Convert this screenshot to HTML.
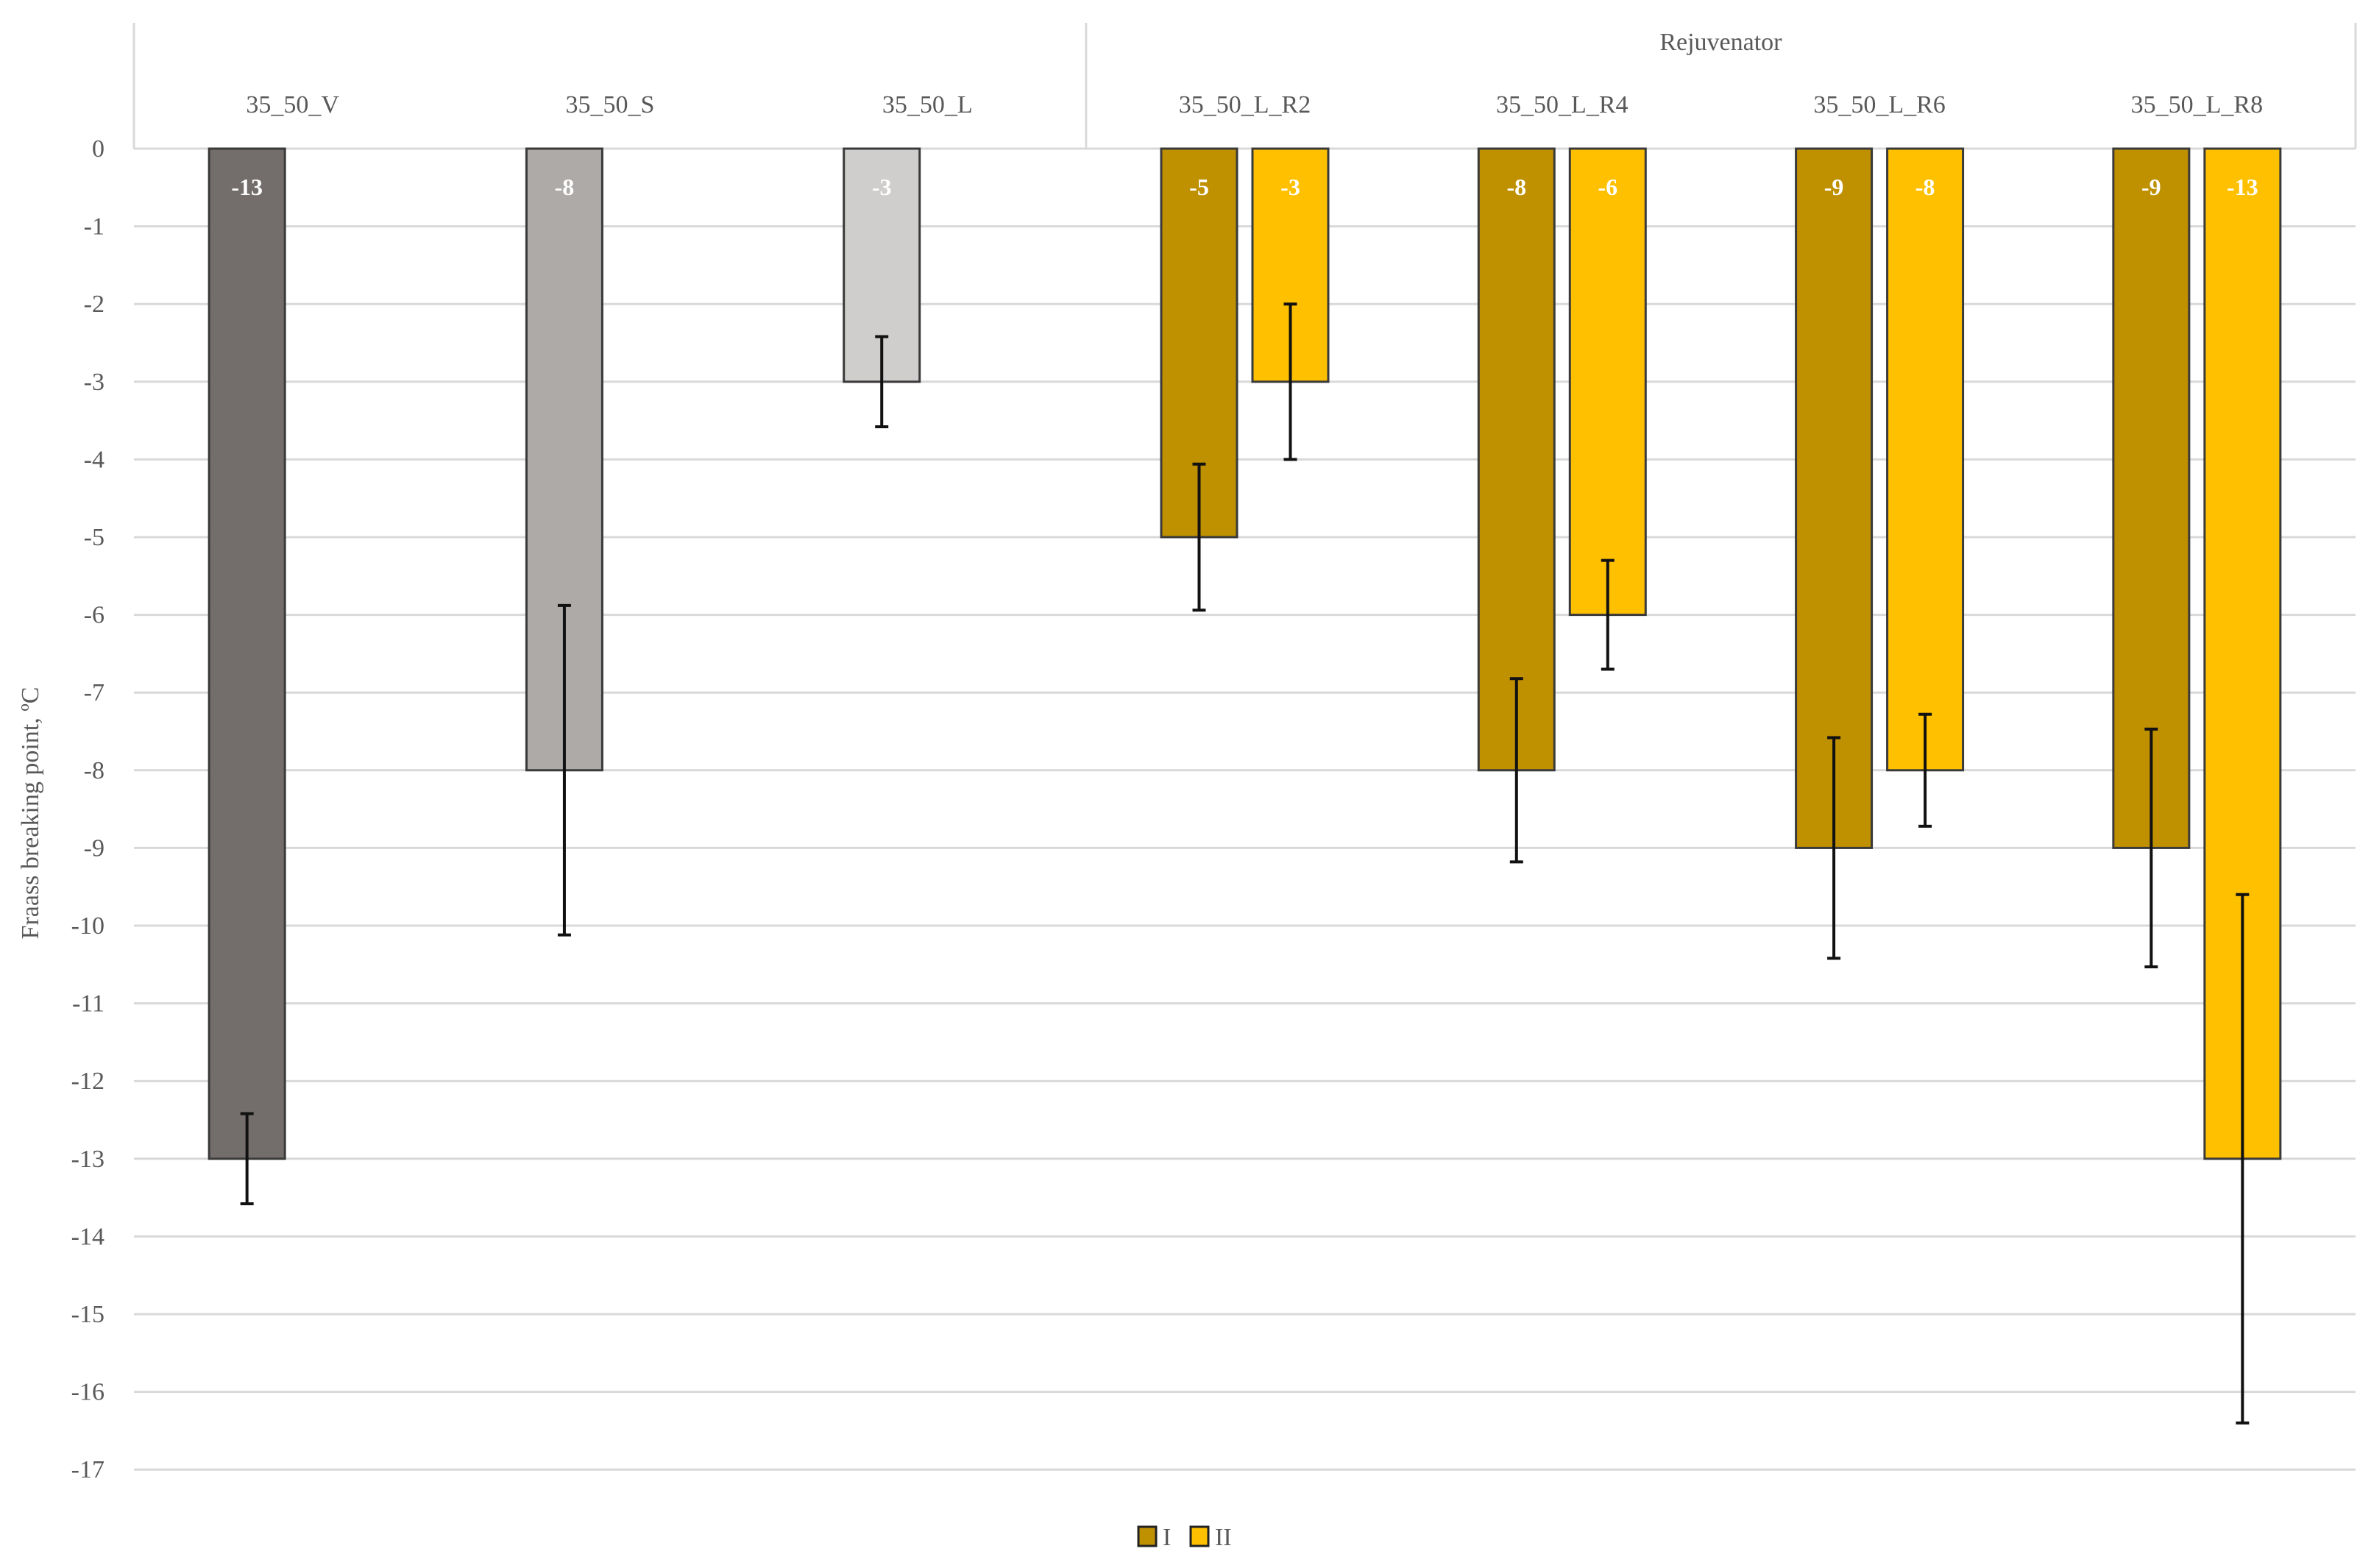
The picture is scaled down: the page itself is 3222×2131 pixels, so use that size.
<!DOCTYPE html>
<html><head><meta charset="utf-8">
<style>
html,body{margin:0;padding:0;background:#fff;}
svg{display:block;}
text{font-family:"Liberation Serif",serif;}
</style></head>
<body>
<svg id="chart" width="3222" height="2131" viewBox="0 0 3222 2131" xmlns="http://www.w3.org/2000/svg">
<rect width="3222" height="2131" fill="#fff"/>
<g id="grid"></g>
<g id="header"></g>
<g id="bars"></g>
<g id="yticks"></g>
<text x="0" y="0" transform="translate(52,1105) rotate(-90)" text-anchor="middle" font-size="34" fill="#595959">Fraass breaking point, ºC</text>
<g>
<rect x="1547" y="2075" width="24" height="26" fill="#bf9000" stroke="#222" stroke-width="3"/>
<text x="1580" y="2100" font-size="34" fill="#595959">I</text>
<rect x="1618" y="2075" width="24" height="26" fill="#ffc000" stroke="#222" stroke-width="3"/>
<text x="1651" y="2100" font-size="34" fill="#595959">II</text>
</g>
</svg>
<script>
const categories = ["35_50_V","35_50_S","35_50_L","35_50_L_R2","35_50_L_R4","35_50_L_R6","35_50_L_R8"];
const seriesI = [-13,-8,-3,-5,-8,-9,-9];
const seriesII = [null,null,null,-3,-6,-8,-13];
const errI = [0.58,2.12,0.58,0.94,1.18,1.42,1.53];
const errII = [null,null,null,1.0,0.7,0.72,3.4];
const yTicks = [0,-1,-2,-3,-4,-5,-6,-7,-8,-9,-10,-11,-12,-13,-14,-15,-16,-17];
const colorsI = ["#736e6c","#adaaa8","#d0cecd","#bf9000","#bf9000","#bf9000","#bf9000"];

const NS="http://www.w3.org/2000/svg";
const left=182,right=3201,zeroY=202,unit=105.6;
const catW=(right-left)/categories.length;
const y=v=>zeroY-v*unit;
const cx=i=>left+catW*(i+0.5);
function mk(tag,attrs,parent){const e=document.createElementNS(NS,tag);for(const k in attrs)e.setAttribute(k,attrs[k]);parent.appendChild(e);return e;}
const grid=document.getElementById('grid'),hdr=document.getElementById('header'),bars=document.getElementById('bars'),yt=document.getElementById('yticks');

yTicks.forEach(t=>{
  const l=mk('line',{x1:left,x2:right,y1:y(t),y2:y(t),stroke:'#d9d9d9','stroke-width':3},grid);
  
  
  const tx=mk('text',{x:142,y:y(t)+11,'text-anchor':'end','font-size':34,fill:'#595959'},yt);
  tx.textContent=String(t).replace('-','-');
  
  
});

// header box
[[left,31,left,zeroY],[left+catW*3,31,left+catW*3,zeroY],[right,31,right,zeroY]].forEach(p=>{
  const l=mk('line',{x1:p[0],y1:p[1],x2:p[2],y2:p[3],stroke:'#d9d9d9','stroke-width':3},hdr);
  
  
});
const rj=mk('text',{x:left+catW*5,y:68,'text-anchor':'middle','font-size':34,fill:'#595959'},hdr);
rj.textContent='Rejuvenator';


categories.forEach((c,i)=>{
  const t=mk('text',{x:cx(i),y:153,'text-anchor':'middle','font-size':34,fill:'#595959'},hdr);
  t.textContent=c;
  
  
});

const bw=103,off=62;
function drawBar(i,val,err,x,color,series){
  const r=mk('rect',{x:x-bw/2,y:zeroY,width:bw,height:y(val)-zeroY,fill:color,stroke:'#3a3a3a','stroke-width':3},bars);
  
  
  const lb=mk('text',{x:x,y:265,'text-anchor':'middle','font-size':32,'font-weight':'bold',fill:'#fff'},bars);
  lb.textContent=String(val);
  
  
  const g=mk('g',{stroke:'#111','stroke-width':4},bars);
  
  
  mk('line',{x1:x,x2:x,y1:y(val+err),y2:y(val-err)},g);
  mk('line',{x1:x-9,x2:x+9,y1:y(val+err),y2:y(val+err)},g);
  mk('line',{x1:x-9,x2:x+9,y1:y(val-err),y2:y(val-err)},g);
}
categories.forEach((c,i)=>{
  drawBar(i,seriesI[i],errI[i],cx(i)-off,colorsI[i],'i');
  if(seriesII[i]!==null) drawBar(i,seriesII[i],errII[i],cx(i)+off,'#ffc000','ii');
});
</script>
</body></html>
